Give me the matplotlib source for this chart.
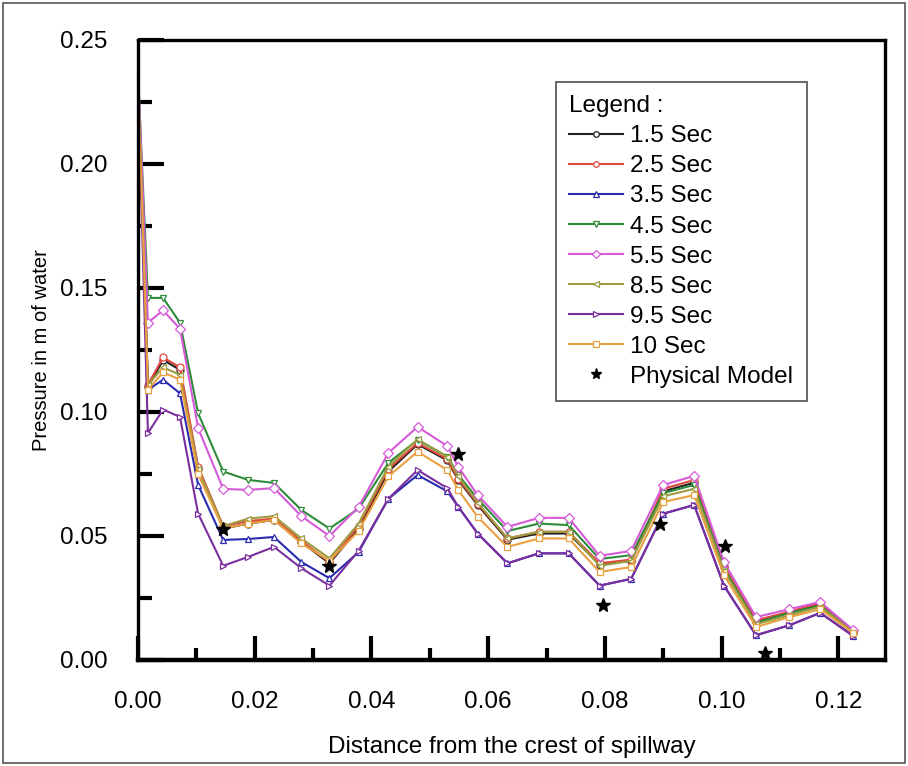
import matplotlib
matplotlib.use("Agg")
import matplotlib.pyplot as plt
from matplotlib.patches import Rectangle
from matplotlib.ticker import MultipleLocator, FormatStrFormatter

plt.rcParams['font.family'] = ['Liberation Sans', 'DejaVu Sans']

# Distance from the crest of the spillway (m)
distance = [0.0, 0.0017, 0.0043, 0.0072, 0.0103, 0.0146, 0.0189, 0.0233, 0.0280,
            0.0328, 0.0378, 0.0429, 0.0479, 0.0530, 0.0549, 0.0582, 0.0633, 0.0687,
            0.0738, 0.0791, 0.0845, 0.0900, 0.0953, 0.1004, 0.1059, 0.1116, 0.1169,
            0.1226]

# Pressure (m of water) at each time step
p_1_5 = [0.235, 0.110, 0.121, 0.117, 0.077, 0.053, 0.055, 0.0565, 0.0475, 0.039,
         0.053, 0.076, 0.087, 0.0805, 0.0725, 0.0625, 0.0485, 0.051, 0.051, 0.0385,
         0.040, 0.068, 0.0715, 0.0375, 0.0155, 0.019, 0.0225, 0.011]
p_2_5 = [0.236, 0.111, 0.122, 0.118, 0.078, 0.054, 0.056, 0.057, 0.048, 0.0395,
         0.054, 0.077, 0.0875, 0.081, 0.073, 0.063, 0.049, 0.0517, 0.0517, 0.039,
         0.0405, 0.069, 0.0726, 0.038, 0.016, 0.0195, 0.023, 0.0112]
p_3_5 = [0.234, 0.109, 0.113, 0.1075, 0.0706, 0.0484, 0.0488, 0.0496, 0.0395, 0.033,
         0.0435, 0.065, 0.0746, 0.068, 0.0617, 0.051, 0.039, 0.043, 0.043, 0.030,
         0.0327, 0.059, 0.0625, 0.030, 0.010, 0.014, 0.019, 0.0098]
p_4_5 = [0.236, 0.146, 0.146, 0.136, 0.0995, 0.076, 0.0726, 0.0714, 0.0605, 0.053,
         0.061, 0.0795, 0.0887, 0.082, 0.0746, 0.065, 0.052, 0.055, 0.0544, 0.0407,
         0.0423, 0.0673, 0.0706, 0.037, 0.015, 0.019, 0.022, 0.011]
p_5_5 = [0.238, 0.136, 0.141, 0.1335, 0.0935, 0.069, 0.0686, 0.0693, 0.058, 0.050,
         0.0617, 0.0835, 0.094, 0.0863, 0.0778, 0.0665, 0.0537, 0.0573, 0.0573, 0.042,
         0.044, 0.0706, 0.0742, 0.0395, 0.0173, 0.0205, 0.0234, 0.012]
p_8_5 = [0.235, 0.111, 0.118, 0.115, 0.077, 0.054, 0.057, 0.058, 0.049, 0.041,
         0.055, 0.078, 0.089, 0.082, 0.074, 0.0635, 0.049, 0.0517, 0.0517, 0.038,
         0.040, 0.066, 0.069, 0.036, 0.0145, 0.018, 0.0215, 0.011]
p_9_5 = [0.233, 0.0915, 0.101, 0.098, 0.059, 0.038, 0.0416, 0.0456, 0.037, 0.030,
         0.044, 0.065, 0.0766, 0.0693, 0.0617, 0.051, 0.039, 0.043, 0.043, 0.030,
         0.0327, 0.059, 0.0625, 0.030, 0.010, 0.014, 0.019, 0.0095]
p_10 = [0.234, 0.109, 0.116, 0.113, 0.075, 0.053, 0.055, 0.0565, 0.047, 0.040,
        0.052, 0.074, 0.084, 0.0766, 0.0685, 0.0577, 0.0456, 0.049, 0.049, 0.0355,
        0.0375, 0.0637, 0.0665, 0.0343, 0.0133, 0.0173, 0.0205, 0.0108]

# Physical model measurements
phys_x = [0.0146, 0.0328, 0.0548, 0.0797, 0.0894, 0.1006, 0.1075]
phys_y = [0.053, 0.038, 0.083, 0.022, 0.055, 0.046, 0.003]

series_labels = ["1.5 Sec", "2.5 Sec", "3.5 Sec", "4.5 Sec", "5.5 Sec",
                 "8.5 Sec", "9.5 Sec", "10 Sec"]
series_values = [p_1_5, p_2_5, p_3_5, p_4_5, p_5_5, p_8_5, p_9_5, p_10]
series_colors = ["#202020", "#e0483c", "#2b2bb0", "#2e8b3a", "#d65ad8",
                 "#9c9c40", "#7b2f9e", "#e8a040"]
series_markers = ["o", "o", "^", "v", "D", "<", ">", "s"]

W, H = 908, 766
fig = plt.figure(figsize=(W / 100, H / 100), dpi=100)
fig.patches.append(Rectangle((3 / W, 3 / H), 902 / W, 760 / H, transform=fig.transFigure,
                             fill=False, edgecolor="#555555", linewidth=1.2))

ax = fig.add_axes([138 / W, 1 - 660 / H, (885 - 138) / W, (660 - 40) / H])

for vals, lab, col, mk in zip(series_values, series_labels, series_colors, series_markers):
    ax.plot(distance, vals, color=col, linewidth=1.5, marker=mk, markersize=5,
            markerfacecolor="white", markeredgecolor=col, markeredgewidth=0.9,
            markevery=list(range(1, len(distance))), label=lab, clip_on=False)

ax.plot(phys_x, phys_y, linestyle="none", marker="*", markersize=10, color="black",
        label="Physical Model", clip_on=False, zorder=5)

ax.set_xlim(0, 0.128)
ax.set_ylim(0, 0.25)

ax.xaxis.set_major_locator(MultipleLocator(0.02))
ax.xaxis.set_minor_locator(MultipleLocator(0.01))
ax.yaxis.set_major_locator(MultipleLocator(0.05))
ax.yaxis.set_minor_locator(MultipleLocator(0.025))
ax.xaxis.set_major_formatter(FormatStrFormatter("%.2f"))
ax.yaxis.set_major_formatter(FormatStrFormatter("%.2f"))

ax.tick_params(axis="x", which="major", direction="in", length=17, width=3, pad=22,
               labelsize=17.5)
ax.tick_params(axis="x", which="minor", direction="in", length=9, width=3)
ax.tick_params(axis="y", which="major", direction="in", length=19, width=3, pad=22,
               labelsize=17.5)
ax.tick_params(axis="y", which="minor", direction="in", length=10, width=3)

for side in ["top", "right", "left"]:
    ax.spines[side].set_linewidth(2.4)
ax.spines["bottom"].set_linewidth(3.2)

ax.set_xlabel("Distance from the crest of spillway", fontsize=17.5, labelpad=17)
ax.set_ylabel("Pressure in m of water", fontsize=14.5, labelpad=6)

leg = ax.legend(loc="upper left", bbox_to_anchor=(556 / W, 1 - 82 / H),
                bbox_transform=fig.transFigure, borderaxespad=0,
                title="Legend :", title_fontsize=17.5,
                fontsize=17.5, frameon=True, fancybox=False, edgecolor="#333333",
                handlelength=2.2, handletextpad=0.3, labelspacing=0.33,
                borderpad=0.55, alignment="left")
leg.get_frame().set_linewidth(1.3)
for h in leg.legend_handles:
    h.set_markersize(4)
leg.legend_handles[-1].set_markersize(8)

fig.savefig("out.png", dpi=100)
